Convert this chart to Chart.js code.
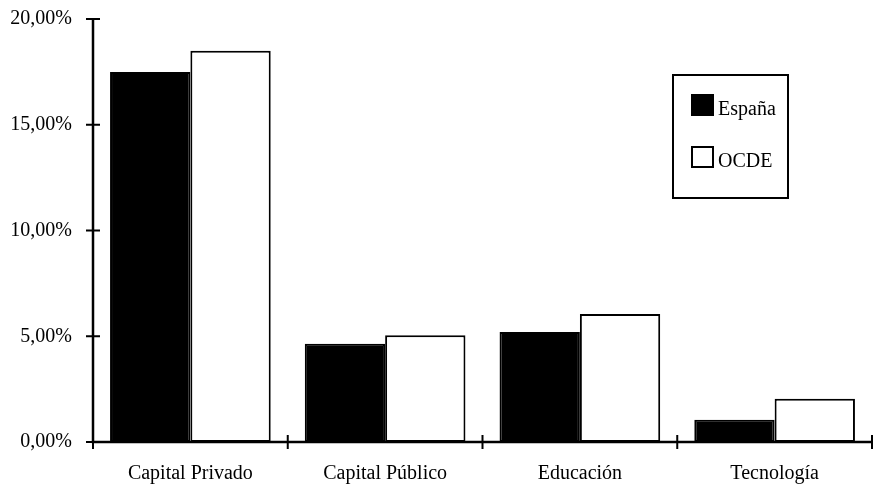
<!DOCTYPE html>
<html>
<head>
<meta charset="utf-8">
<script src="https://cdn.jsdelivr.net/npm/chart.js@4.4.1/dist/chart.umd.min.js"></script>
<style>
  html, body { margin: 0; padding: 0; background: #fff; }
  #wrap { width: 874px; height: 485px; }
</style>
</head>
<body>
<div id="wrap"><canvas id="chart"></canvas></div>
<script>
const categories = ['Capital Privado', 'Capital Público', 'Educación', 'Tecnología'];
const espana = [17.5, 4.65, 5.2, 1.05];
const ocde = [18.5, 5.05, 6.05, 2.05];
const yTicks = [0, 5, 10, 15, 20];

const serif = '"Liberation Serif", "Times New Roman", serif';

// axes with tick marks that cross the axis line
const crossAxes = {
    id: 'crossAxes',
    afterDatasetsDraw(chart) {
        const ctx = chart.ctx;
        const x = chart.scales.x;
        const y = chart.scales.y;
        const area = chart.chartArea;
        ctx.save();
        ctx.strokeStyle = '#000';
        ctx.lineWidth = 2.5;
        ctx.beginPath();
        ctx.moveTo(area.left, y.getPixelForValue(20));
        ctx.lineTo(area.left, y.getPixelForValue(0));
        ctx.lineTo(area.right, y.getPixelForValue(0));
        ctx.stroke();

        ctx.lineWidth = 2;
        ctx.beginPath();
        yTicks.forEach(v => {
            const py = y.getPixelForValue(v);
            ctx.moveTo(area.left - 7, py);
            ctx.lineTo(area.left + 7, py);
        });
        const base = y.getPixelForValue(0);
        const half = (x.getPixelForValue(1) - x.getPixelForValue(0)) / 2;
        for (let i = 0; i <= categories.length; i++) {
            const px = x.getPixelForValue(i) - half;
            ctx.moveTo(px, base - 7);
            ctx.lineTo(px, base + 7);
        }
        ctx.stroke();
        ctx.restore();
    }
};

// boxed legend inside the plot
const boxLegend = {
    id: 'boxLegend',
    afterDraw(chart) {
        const ctx = chart.ctx;
        ctx.save();
        ctx.strokeStyle = '#000';
        ctx.lineWidth = 2;
        ctx.strokeRect(673, 75, 115, 123);
        ctx.font = '20px ' + serif;
        ctx.textBaseline = 'alphabetic';
        chart.data.datasets.forEach((ds, i) => {
            const top = 94 + i * 52;
            ctx.fillStyle = ds.backgroundColor;
            ctx.fillRect(691, top, 23, 22);
            ctx.lineWidth = 2;
            ctx.strokeRect(692, top + 1, 21, 20);
            ctx.fillStyle = '#000';
            ctx.fillText(ds.label, 718, top + 21);
        });
        ctx.restore();
    }
};

new Chart(document.getElementById('chart'), {
    type: 'bar',
    data: {
        labels: categories,
        datasets: [
            {
                label: 'España',
                data: espana,
                backgroundColor: '#000',
                borderColor: '#000',
                borderWidth: 2,
                borderSkipped: false
            },
            {
                label: 'OCDE',
                data: ocde,
                backgroundColor: '#fff',
                borderColor: '#000',
                borderWidth: 2,
                borderSkipped: false
            }
        ]
    },
    options: {
        responsive: true,
        maintainAspectRatio: false,
        animation: false,
        layout: { padding: { top: 19, right: 2, left: 0, bottom: 0 } },
        datasets: { bar: { barPercentage: 1, categoryPercentage: 0.825 } },
        plugins: {
            legend: { display: false },
            tooltip: { enabled: false }
        },
        scales: {
            x: {
                grid: { display: false, drawTicks: false },
                border: { display: false },
                ticks: {
                    color: '#000',
                    padding: 20,
                    font: { family: serif, size: 20 }
                },
                afterFit(scale) {
                    scale.height = 43;
                    scale.paddingLeft = 0;
                    scale.paddingRight = 0;
                }
            },
            y: {
                min: 0,
                max: 20,
                grid: { display: false, drawTicks: false },
                border: { display: false },
                afterBuildTicks(scale) {
                    scale.ticks = yTicks.map(v => ({ value: v }));
                },
                ticks: {
                    color: '#000',
                    padding: 21,
                    font: { family: serif, size: 20 },
                    callback: v => v.toFixed(2).replace('.', ',') + '%'
                },
                afterFit(scale) {
                    scale.width = 93;
                    scale.paddingTop = 0;
                    scale.paddingBottom = 0;
                }
            }
        }
    },
    plugins: [crossAxes, boxLegend]
});
</script>
</body>
</html>
